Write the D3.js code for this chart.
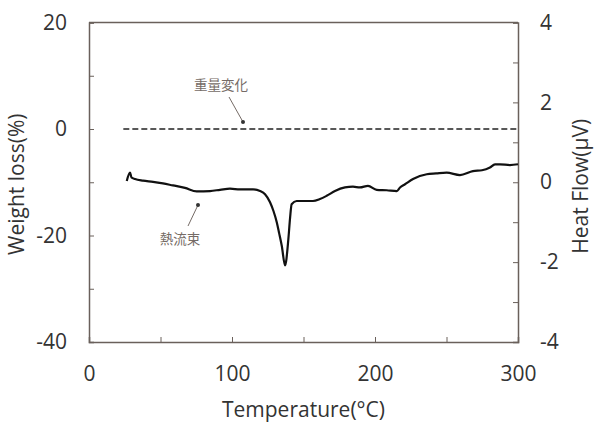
<!DOCTYPE html>
<html>
<head>
<meta charset="utf-8">
<script src="https://cdn.jsdelivr.net/npm/d3@7"></script>
<style>
  body { margin: 0; background: #fff; }
  svg text { font-family: 'Open Sans', sans-serif; }
</style>
</head>
<body>
<div id="chart"></div>
<script>
const w = 595
const h = 423
const margin = { top: 22.5, bottom: 81, left: 89, right: 77 }

const axisColor = "#6a605b"
const textColor = "#333"
const noteColor = "#756b66"

// heat flow curve (µV) vs temperature (°C)
const hfTemp = [26.4, 28.7, 29.7, 32.2, 37.8, 44.8, 51.7, 58.7, 67.1, 75.3, 84.6, 91.6, 98.6, 105.6, 114.7, 119.6, 123.1, 126.6, 129, 131.3, 133, 134.8, 137.1, 139.4, 140.6, 141.7, 145.2, 150, 156.6, 161.5, 166.2, 172, 179, 184.6, 189.5, 195.1, 201.2, 208.2, 215.2, 217.5, 221, 226.6, 236.2, 242.7, 250.1, 259.4, 268.5, 274.8, 280.4, 283.9, 287.4, 294.4, 300]
const hfValue = [0.03, 0.24, 0.12, 0.08, 0.04, 0.01, -0.03, -0.08, -0.14, -0.23, -0.22, -0.19, -0.16, -0.18, -0.18, -0.22, -0.3, -0.5, -0.72, -1.0, -1.28, -1.59, -2.08, -1.43, -0.9, -0.55, -0.47, -0.47, -0.47, -0.42, -0.34, -0.22, -0.13, -0.11, -0.13, -0.09, -0.19, -0.2, -0.22, -0.13, -0.05, 0.08, 0.2, 0.22, 0.24, 0.18, 0.28, 0.3, 0.37, 0.45, 0.45, 0.43, 0.45]

// weight change (%) – flat dashed line
const wtTemp = [24, 300]
const wtValue = [0, 0]

const xTicks = [0, 50, 100, 150, 200, 250, 300]
const leftTicks = [-40, -30, -20, -10, 0, 10, 20]
const rightTicks = [-4, -3, -2, -1, 0, 1, 2, 3, 4]

const svg = d3.select('#chart').append('svg')
  .attr('width', w)
  .attr('height', h)

const x = d3.scaleLinear().domain([0, 300]).range([margin.left, w - margin.right])
const yL = d3.scaleLinear().domain([-40, 20]).range([h - margin.bottom, margin.top])
const yR = d3.scaleLinear().domain([-4, 4]).range([h - margin.bottom, margin.top])

const styleAxis = g => {
  g.select('.domain').attr('stroke', axisColor).attr('stroke-width', 1.5)
  g.selectAll('.tick line').attr('stroke', axisColor).attr('stroke-width', 1)
  g.selectAll('.tick text')
    .attr('fill', textColor)
    .style('font-size', '21px')
}

// frame top
svg.append('line')
  .attr('x1', margin.left).attr('x2', w - margin.right)
  .attr('y1', margin.top).attr('y2', margin.top)
  .attr('stroke', axisColor).attr('stroke-width', 1.5)

svg.append('g')
  .attr('transform', `translate(0,${h - margin.bottom})`)
  .call(d3.axisBottom(x).tickValues(xTicks).tickSize(-5).tickPadding(24)
    .tickFormat(d => d % 100 === 0 ? d : ''))
  .call(styleAxis)

svg.append('g')
  .attr('transform', `translate(${margin.left},0)`)
  .call(d3.axisLeft(yL).tickValues(leftTicks).tickSize(-5).tickPadding(22)
    .tickFormat(d => d % 20 === 0 ? d : ''))
  .call(styleAxis)

svg.append('g')
  .attr('transform', `translate(${w - margin.right},0)`)
  .call(d3.axisRight(yR).tickValues(rightTicks).tickSize(-5).tickPadding(22)
    .tickFormat(d => d % 2 === 0 ? d : ''))
  .call(styleAxis)

// dashed weight line
const wtData = wtTemp.map((t, i) => ({ t: t, v: wtValue[i] }))
svg.append('path')
  .attr('d', d3.line().x(d => x(d.t)).y(d => yL(d.v))(wtData))
  .attr('fill', 'none')
  .attr('stroke', '#222')
  .attr('stroke-width', 1.6)
  .attr('stroke-dasharray', '6,3')

// heat flow line
const hfData = hfTemp.map((t, i) => ({ t: t, v: hfValue[i] }))
svg.append('path')
  .attr('d', d3.line().x(d => x(d.t)).y(d => yR(d.v)).curve(d3.curveMonotoneX)(hfData))
  .attr('fill', 'none')
  .attr('stroke', '#111')
  .attr('stroke-width', 2.2)
  .attr('stroke-linejoin', 'round')

// annotations
const notes = [
  { text: '重量変化', tx: 221, ty: 90, from: [229, 97], to: [243, 122] },
  { text: '熱流束', tx: 180, ty: 244, from: [188, 226], to: [198, 205] }
]
notes.forEach(n => {
  svg.append('line')
    .attr('x1', n.from[0]).attr('y1', n.from[1])
    .attr('x2', n.to[0]).attr('y2', n.to[1])
    .attr('stroke', noteColor).attr('stroke-width', 1)
  svg.append('circle')
    .attr('cx', n.to[0]).attr('cy', n.to[1]).attr('r', 2)
    .attr('fill', '#333')
  svg.append('text')
    .attr('x', n.tx).attr('y', n.ty)
    .attr('text-anchor', 'middle')
    .style('font-family', "'Noto Sans CJK JP', sans-serif")
    .style('font-size', '13.5px')
    .attr('fill', noteColor)
    .text(n.text)
})

// axis titles
svg.append('text')
  .attr('transform', `translate(24,${(margin.top + h - margin.bottom) / 2 + 2}) rotate(-90)`)
  .attr('text-anchor', 'middle')
  .attr('fill', textColor)
  .style('font-size', '21px')
  .text('Weight loss(%)')

svg.append('text')
  .attr('transform', `translate(588,${(margin.top + h - margin.bottom) / 2 + 4}) rotate(-90)`)
  .attr('text-anchor', 'middle')
  .attr('fill', textColor)
  .style('font-size', '21px')
  .text('Heat Flow(μV)')

svg.append('text')
  .attr('x', (margin.left + w - margin.right) / 2)
  .attr('y', 417)
  .attr('text-anchor', 'middle')
  .attr('fill', textColor)
  .style('font-size', '21px')
  .text('Temperature(°C)')
</script>
</body>
</html>
